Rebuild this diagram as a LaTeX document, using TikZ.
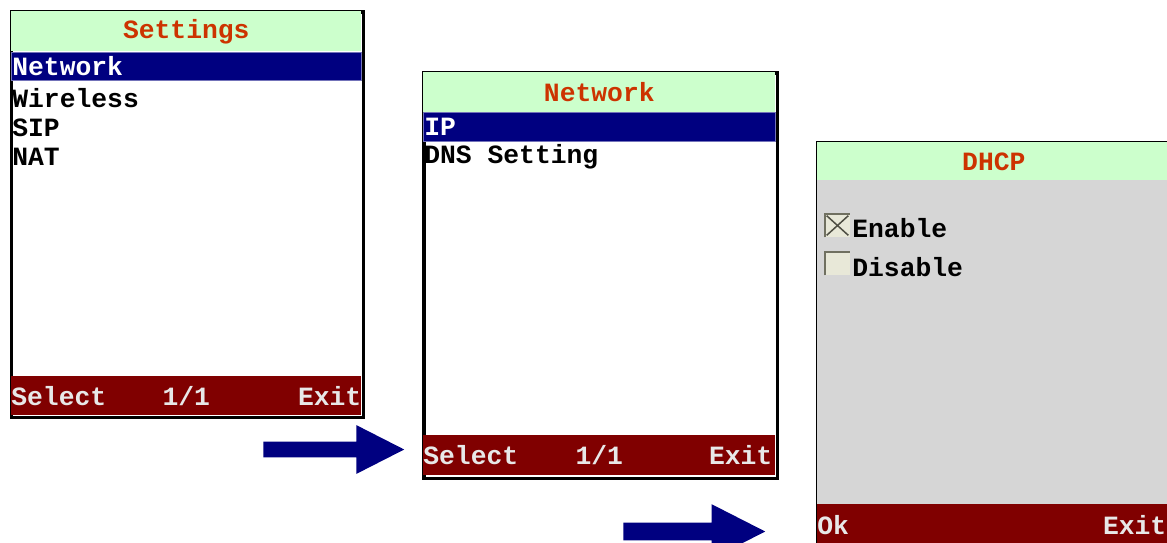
\documentclass[tikz,border=0pt]{standalone}
\usepackage{fontspec}
\setmonofont{Liberation Mono}
\usetikzlibrary{shapes.arrows, positioning}

\definecolor{titlegreen}{HTML}{CCFFCC}
\definecolor{titlered}{HTML}{CC3300}
\definecolor{selblue}{HTML}{000080}
\definecolor{barred}{HTML}{800000}
\definecolor{keygray}{HTML}{E8E8E8}
\definecolor{dlggray}{HTML}{D6D6D6}
\definecolor{boxfill}{HTML}{E8E8D8}
\definecolor{boxdark}{HTML}{707060}

\newcommand{\menufont}{\ttfamily\bfseries\fontsize{15}{15}\selectfont}

\tikzstyle{frame} = [rectangle, draw=black, line width=0.07cm, fill=white, inner sep=0pt, anchor=north west]
\tikzstyle{titlebar} = [rectangle, fill=titlegreen, inner sep=0pt, minimum width=7cm, minimum height=0.8cm, anchor=north west, text=titlered, font=\menufont]
\tikzstyle{selbar} = [rectangle, fill=selblue, draw=selblue!55!white, line width=0.02cm, inner sep=0pt, minimum width=7cm, minimum height=0.56cm, anchor=north west]
\tikzstyle{softbar} = [rectangle, fill=barred, inner sep=0pt, minimum width=7cm, minimum height=0.78cm, anchor=north west]
\tikzstyle{item} = [inner sep=0pt, anchor=west, text=black, font=\menufont]
\tikzstyle{itemsel} = [item, text=white]
\tikzstyle{softkey} = [inner sep=0pt, text=keygray, font=\menufont]
\tikzstyle{checkbox} = [rectangle, fill=boxfill, inner sep=0pt, minimum width=0.5cm, minimum height=0.46cm]
\tikzstyle{blockarrow} = [single arrow, fill=selblue, inner xsep=0pt, single arrow tip angle=54, anchor=tip]

\begin{document}
\begin{tikzpicture}[x=0.02cm, y=-0.02cm]

\clip (0,0) rectangle (1167,542);

% Settings screen
\node (setframe) [frame, minimum width=7.04cm, minimum height=8.12cm] at (10,10) {};
\node (settitle) [titlebar] at (11,11) {Settings};
\node (setsel) [selbar] at (11,52) {};
\node (setfoot) [softbar] at (11,376) {};
\node (network) [itemsel] at (12,66) {Network};
\node (wireless) [item] at (12,98) {Wireless};
\node (sip) [item] at (12,128) {SIP};
\node (nat) [item] at (12,157) {NAT};
\node (setselect) [softkey, anchor=west] at (setfoot.west) {Select};
\node (setpage) [softkey] at (setfoot.center) {1/1};
\node (setexit) [softkey, anchor=east] at (setfoot.east) {Exit};

% Network screen
\node (netframe) [frame, minimum width=7.08cm, minimum height=8.12cm] at (422,71) {};
\node (nettitle) [titlebar, minimum width=7.04cm] at (423,72) {Network};
\node (netsel) [selbar, minimum width=7.04cm, minimum height=0.58cm] at (423,112) {};
\node (netfoot) [softbar, minimum width=7.04cm, minimum height=0.8cm] at (423,435) {};
\node (ip) [itemsel] at (424,127) {IP};
\node (dns) [item] at (424,157) {DNS Setting};
\node (netselect) [softkey, anchor=west] at (netfoot.west) {Select};
\node (netpage) [softkey] at (netfoot.center) {1/1};
\node (netexit) [softkey, anchor=east] at ([xshift=-0.06cm]netfoot.east) {Exit};

% DHCP screen
\node (dhcpframe) [frame, minimum width=7.1cm, minimum height=8.12cm] at (816,141) {};
\node (dhcptitle) [titlebar, minimum width=7.06cm, minimum height=0.76cm] at (817,142) {DHCP};
\node (dhcpbody) [rectangle, fill=dlggray, inner sep=0pt, minimum width=7.06cm, minimum height=6.48cm, anchor=north west] at (817,180) {};
\node (dhcpfoot) [softbar, minimum width=7.06cm, minimum height=0.84cm] at (817,504) {};
\node (cbenable) [checkbox] at (837.5,225.5) {};
\node (cbdisable) [checkbox] at (837.5,263.5) {};
\draw [boxdark, line width=0.04cm] (cbenable.south west) -- (cbenable.north west) -- (cbenable.north east);
\draw [boxdark, line width=0.04cm] (cbdisable.south west) -- (cbdisable.north west) -- (cbdisable.north east);
\draw [boxdark!70!black, line width=0.03cm] ([shift={(0.04cm,-0.04cm)}]cbenable.north west) -- ([shift={(-0.04cm,0.04cm)}]cbenable.south east);
\draw [boxdark!70!black, line width=0.03cm] ([shift={(0.04cm,0.04cm)}]cbenable.south west) -- ([shift={(-0.04cm,-0.04cm)}]cbenable.north east);
\node (enable) [item] at (852,228) {Enable};
\node (disable) [item] at (852,267) {Disable};
\node (dhcpok) [softkey, anchor=west] at (dhcpfoot.west) {Ok};
\node (dhcpexit) [softkey, anchor=east] at ([xshift=-0.08cm]dhcpfoot.east) {Exit};

% arrows between screens
\node (next1) [blockarrow, inner ysep=0.15cm, single arrow head extend=0.33cm, minimum height=2.82cm] at (405,449.5) {};
\node (next2) [blockarrow, inner ysep=0.17cm, single arrow head extend=0.37cm, minimum height=2.84cm] at (766,531.5) {};

\end{tikzpicture}
\end{document}
